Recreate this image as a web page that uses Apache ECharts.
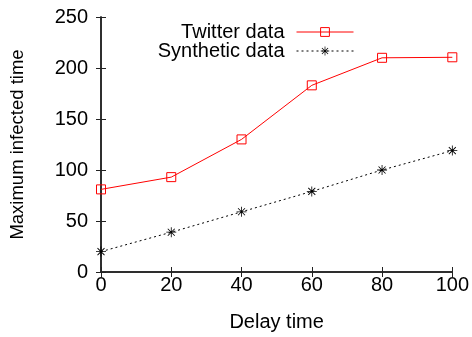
<!DOCTYPE html>
<html><head><meta charset="utf-8">
<script src="https://cdn.jsdelivr.net/npm/echarts@6/dist/echarts.min.js"></script>
<style>html,body{margin:0;padding:0;background:#fff}#c{width:472px;height:337px}</style>
</head><body><div id="c"></div>
<script>
var delays = [0, 20, 40, 60, 80, 100];
var twitter = [81, 93, 130, 183, 210, 210.5];
var synthetic = [20, 39, 59, 79, 100, 119];
var xTicks = [0, 20, 40, 60, 80, 100];
var yTicks = [0, 50, 100, 150, 200, 250];

var FONT = 'Liberation Sans, Arial, sans-serif';
var FS = 20;
var star = 'path://M-0.8,-10L0.8,-10L0.8,10L-0.8,10Z M-10,-0.8L10,-0.8L10,0.8L-10,0.8Z M-7.6,-6.4L-6.4,-7.6L7.6,6.4L6.4,7.6Z M6.4,-7.6L7.6,-6.4L-6.4,7.6L-7.6,6.4Z';
var chart = echarts.init(document.getElementById('c'));
var axisBase = {
  type: 'value', min: 0,
  axisLine: {show: true, lineStyle: {color: '#222', width: 1.5}},
  axisTick: {show: true, inside: true, length: 5, lineStyle: {color: '#222'}},
  splitLine: {show: false}
};
var legendBase = {
  right: 113, align: 'right', orient: 'vertical',
  itemWidth: 57, itemHeight: 11, itemGap: 8,
  itemStyle: {borderWidth: 1},
  lineStyle: {width: 1},
  textStyle: {fontFamily: FONT, fontSize: FS, color: '#000', padding: [0, 7, 0, 0]}
};
chart.setOption({
  animation: false,
  grid: {left: 101, right: 19, top: 17, bottom: 65},
  legend: [
    Object.assign({}, legendBase, {data: ['Twitter data'], top: 17}),
    Object.assign({}, legendBase, {data: ['Synthetic data'], top: 36})
  ],
  xAxis: [
    Object.assign({}, axisBase, {
      max: 100, interval: 20, position: 'bottom',
      name: 'Delay time', nameLocation: 'middle', nameGap: 40,
      nameTextStyle: {fontFamily: FONT, fontSize: FS, color: '#000'},
      axisLabel: {fontFamily: FONT, fontSize: FS, color: '#000', margin: 3,
        formatter: function(v){ return xTicks.indexOf(v) >= 0 ? String(v) : ''; }}
    }),
    Object.assign({}, axisBase, {max: 100, interval: 20, position: 'top', axisLabel: {show: false}})
  ],
  yAxis: [
    Object.assign({}, axisBase, {
      max: 250, interval: 50, position: 'left',
      name: 'Maximum infected time', nameLocation: 'middle', nameGap: 74,
      nameTextStyle: {fontFamily: FONT, fontSize: 18.5, color: '#000'},
      axisLabel: {fontFamily: FONT, fontSize: FS, color: '#000', margin: 13,
        formatter: function(v){ return yTicks.indexOf(v) >= 0 ? String(v) : ''; }}
    }),
    Object.assign({}, axisBase, {max: 250, interval: 50, position: 'right', axisLabel: {show: false}})
  ],
  series: [{
    name: 'Twitter data', type: 'line',
    data: delays.map(function(d, i){ return [d, twitter[i]]; }),
    symbol: 'rect', symbolSize: 9, showAllSymbol: true,
    lineStyle: {color: '#f00', width: 1},
    itemStyle: {color: 'rgba(255,255,255,0)', borderColor: '#f00', borderWidth: 1}
  }, {
    name: 'Synthetic data', type: 'line',
    data: delays.map(function(d, i){ return [d, synthetic[i]]; }),
    symbol: star, symbolSize: 10, showAllSymbol: true,
    lineStyle: {color: '#000', width: 1, type: [2, 3]},
    itemStyle: {color: '#000'}
  }]
});
</script></body></html>
